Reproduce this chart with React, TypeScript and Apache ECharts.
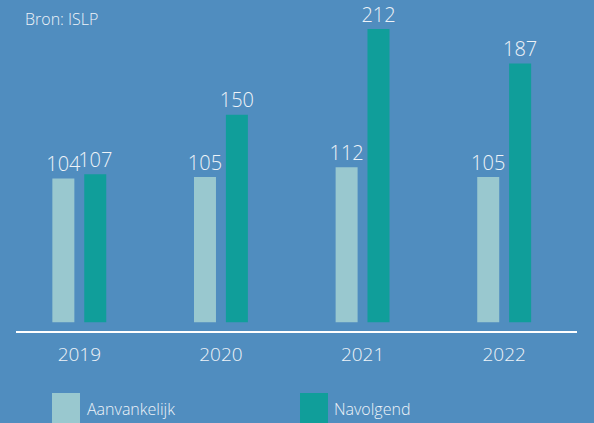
import React, { useEffect, useRef } from "react";
import * as echarts from "echarts";

const categories = ["2019", "2020", "2021", "2022"];
const aanvankelijk = [104, 105, 112, 105];
const navolgend = [107, 150, 212, 187];
const seriesNames = ["Aanvankelijk", "Navolgend"];
const source = "Bron: ISLP";

const BG = "#508dbf";
const LIGHT = "#99c8cf";
const DARK = "#109e9a";
const TEXT = "#eef3f8";
const FONT = "'Open Sans', 'Noto Sans', sans-serif";

export default function App() {
  const ref = useRef<HTMLDivElement>(null);
  useEffect(() => {
    if (!ref.current) return;
    document.body.style.margin = "0";
    const chart = echarts.init(ref.current, null, { renderer: "svg" });
    const label = {
      show: true,
      position: "top",
      distance: 5,
      color: TEXT,
      fontSize: 20,
      fontFamily: FONT,
      fontWeight: 300,
    };
    chart.setOption({
      animation: false,
      backgroundColor: BG,
      title: {
        text: source,
        left: 20,
        top: 6,
        textStyle: { color: TEXT, fontSize: 16, fontWeight: 300, fontFamily: FONT },
      },
      legend: [
        {
          data: [seriesNames[0]],
          left: 47,
          top: 388,
          itemWidth: 28,
          itemHeight: 32,
          icon: "rect",
          textStyle: { color: TEXT, fontSize: 16, fontWeight: 300, fontFamily: FONT, padding: [4, 0, 0, 2] },
        },
        {
          data: [seriesNames[1]],
          left: 295,
          top: 388,
          itemWidth: 28,
          itemHeight: 32,
          icon: "rect",
          textStyle: { color: TEXT, fontSize: 16, fontWeight: 300, fontFamily: FONT, padding: [0, 0, 8, 1] },
        },
      ],
      grid: { left: 8.5, right: 19, top: 29, bottom: 91, containLabel: false },
      xAxis: {
        type: "category",
        data: categories,
        axisLine: { show: false },
        axisTick: { show: false },
        axisLabel: { color: TEXT, fontSize: 19, fontWeight: 300, fontFamily: FONT, margin: 12 },
      },
      yAxis: {
        type: "value",
        min: -7,
        max: 212,
        show: false,
        splitLine: { show: false },
      },
      graphic: [
        {
          type: "line",
          shape: { x1: 16, y1: 332, x2: 577, y2: 332 },
          style: { stroke: "#ffffff", lineWidth: 2 },
        },
      ],
      series: [
        {
          name: seriesNames[0],
          type: "bar",
          data: aanvankelijk,
          barWidth: 22,
          barGap: "45%",
          itemStyle: { color: LIGHT },
          label,
        },
        {
          name: seriesNames[1],
          type: "bar",
          data: navolgend,
          barWidth: 22,
          barGap: "45%",
          itemStyle: { color: DARK },
          label,
        },
      ],
    });
    return () => chart.dispose();
  }, []);
  return <div ref={ref} style={{ width: 594, height: 423 }} />;
}
